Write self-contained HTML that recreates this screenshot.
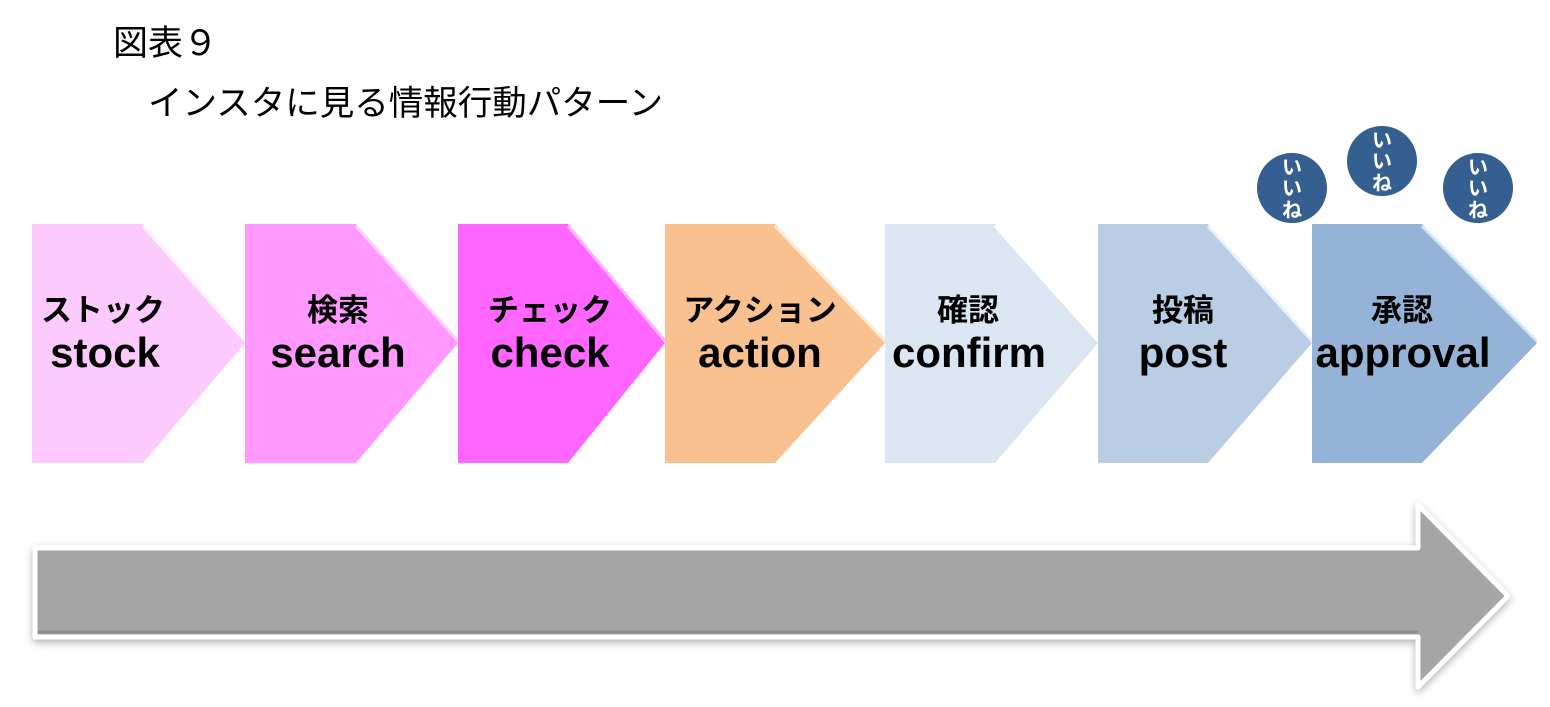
<!DOCTYPE html>
<html><head><meta charset="utf-8"><style>
body{margin:0;background:#fff;}
svg{display:block}
text{font-family:"Liberation Sans","Noto Sans CJK JP",sans-serif;}
.jp{font-size:31px;font-weight:bold;text-anchor:middle;fill:#000}
.en{font-size:42px;font-weight:bold;text-anchor:middle;fill:#000}
.ii{font-size:20px;font-weight:bold;fill:#fff;text-anchor:middle}
</style></head><body>
<svg width="1550" height="707" viewBox="0 0 1550 707" xmlns="http://www.w3.org/2000/svg">
<defs>
<filter id="sh" x="-5%" y="-10%" width="110%" height="130%"><feDropShadow dx="0" dy="3" stdDeviation="4" flood-color="#000" flood-opacity="0.3"/></filter>
</defs>
<text x="113" y="55" font-size="35" fill="#000" style="font-family:'Noto Sans CJK JP',sans-serif">図表９</text>
<text x="148" y="115" font-size="34.5" fill="#000" style="font-family:'Noto Sans CJK JP',sans-serif">インスタに見る情報行動パターン</text>

<g stroke-width="3" stroke-linejoin="round">
<polygon points="32,224 143,224 245,343 143,463 32,463" fill="#fdcafd"/>
<line x1="143" y1="226" x2="245" y2="341" stroke="#fff0ff"/>
<polygon points="245,224 356,224 458,343 356,463 245,463" fill="#ff99ff"/>
<line x1="356" y1="226" x2="458" y2="341" stroke="#ffd0ff"/>
<polygon points="458,224 568,224 665,343 568,463 458,463" fill="#ff66ff"/>
<line x1="568" y1="226" x2="665" y2="341" stroke="#ffb0ff"/>
<polygon points="665,224 775,224 885,343 775,463 665,463" fill="#f9c090"/>
<line x1="775" y1="226" x2="885" y2="341" stroke="#ffe8d0"/>
<polygon points="885,224 995,224 1098,343 995,463 885,463" fill="#dce6f2"/>
<line x1="995" y1="226" x2="1098" y2="341" stroke="#ffffff"/>
<polygon points="1098,224 1208,224 1312,343 1208,463 1098,463" fill="#b9cde5"/>
<line x1="1208" y1="226" x2="1312" y2="341" stroke="#e8f2ff"/>
<polygon points="1312,224 1422,224 1537,343 1422,463 1312,463" fill="#95b3d7"/>
<line x1="1422" y1="226" x2="1537" y2="341" stroke="#d8e8fa"/>
</g>

<text class="jp" x="103" y="321">ストック</text><text class="en" x="105" y="367">stock</text>
<text class="jp" x="338" y="321">検索</text><text class="en" x="338" y="367">search</text>
<text class="jp" x="550" y="321">チェック</text><text class="en" x="550" y="367">check</text>
<text class="jp" x="760" y="321">アクション</text><text class="en" x="760" y="367">action</text>
<text class="jp" x="968" y="321">確認</text><text class="en" x="969" y="367">confirm</text>
<text class="jp" x="1183" y="321">投稿</text><text class="en" x="1183" y="367">post</text>
<text class="jp" x="1402" y="321">承認</text><text class="en" x="1403" y="367">approval</text>

<circle cx="1292" cy="188" r="35" fill="#355e91"/>
<circle cx="1382" cy="161" r="35" fill="#355e91"/>
<circle cx="1478" cy="188" r="35" fill="#355e91"/>
<text class="ii" x="1292" y="174">い</text><text class="ii" x="1292" y="195">い</text><text class="ii" x="1292" y="217">ね</text>
<text class="ii" x="1382" y="147">い</text><text class="ii" x="1382" y="168">い</text><text class="ii" x="1382" y="190">ね</text>
<text class="ii" x="1478" y="174">い</text><text class="ii" x="1478" y="195">い</text><text class="ii" x="1478" y="217">ね</text>

<polygon points="35,548 1418,548 1418,505 1508,596 1418,687 1418,637 35,637" fill="#a5a5a5" stroke="#fff" stroke-width="5" stroke-linejoin="round" filter="url(#sh)"/>
<line x1="38" y1="632" x2="1418" y2="632" stroke="#8c8c8c" stroke-width="3"/>
</svg>
</body></html>
